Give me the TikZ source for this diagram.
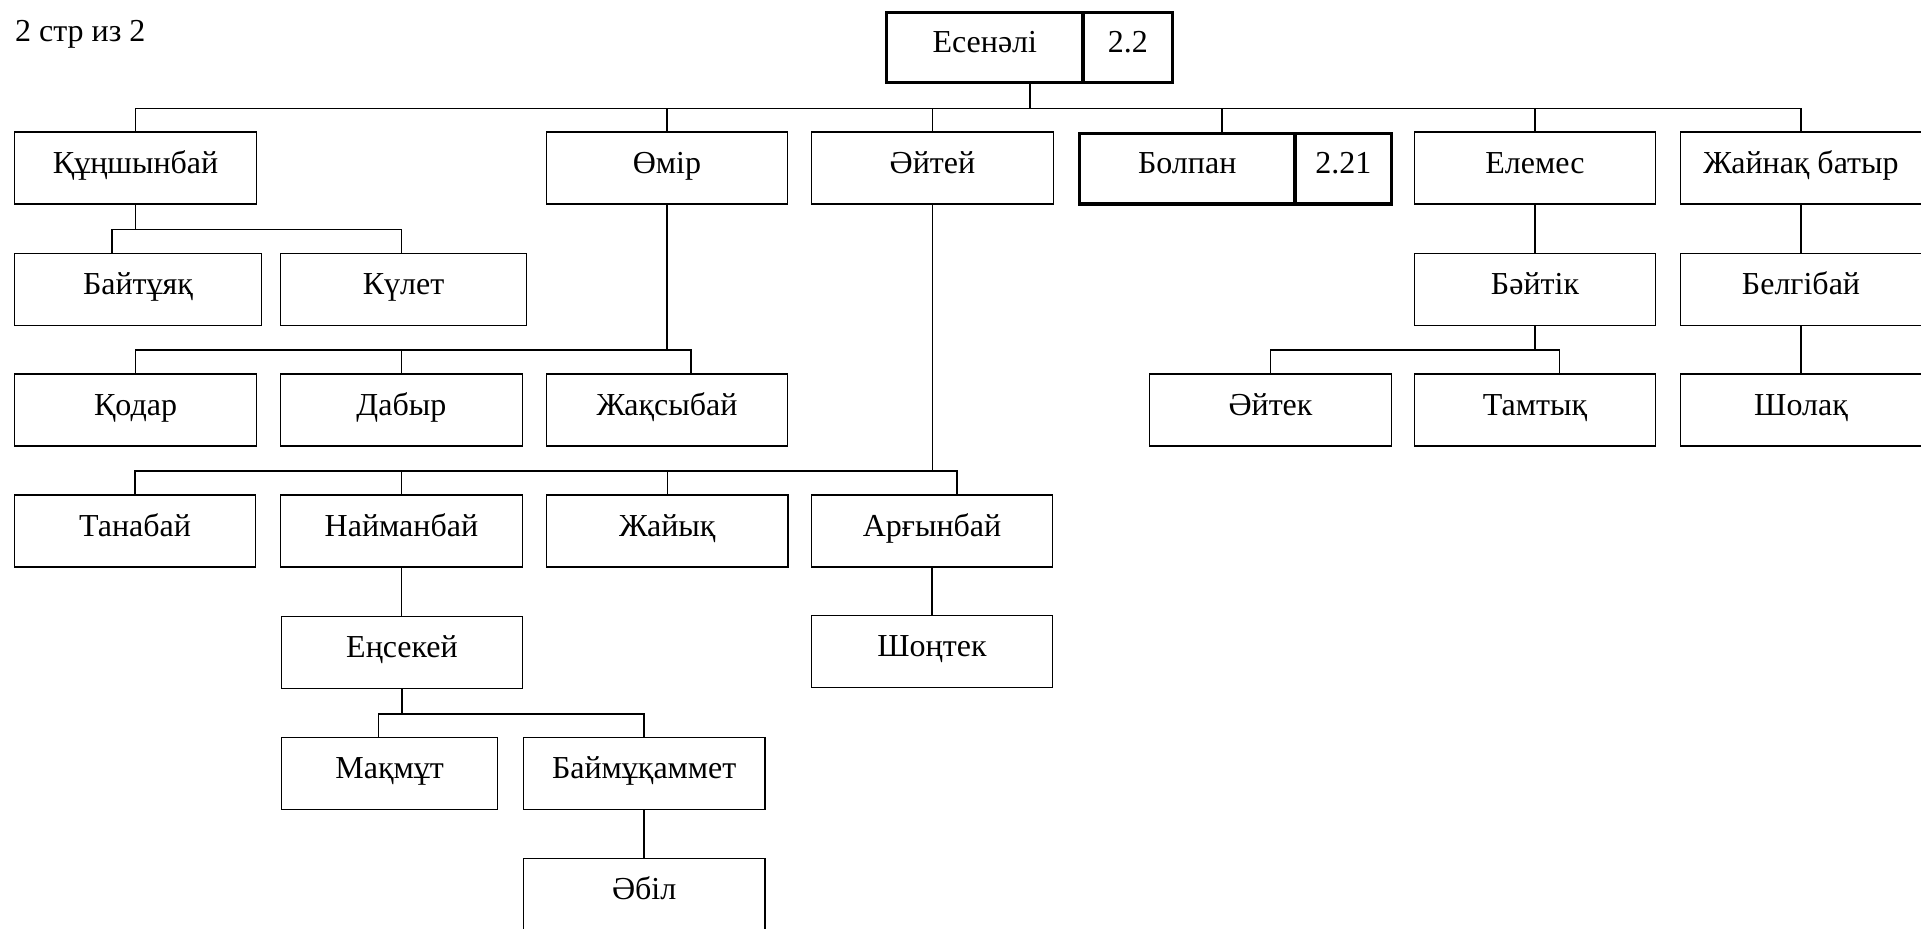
\documentclass[tikz,border=0pt]{standalone}
\usepackage{fontspec}
\setmainfont{Liberation Serif}
\usetikzlibrary{positioning,calc}

\tikzset{
  person/.style={draw, line width=0.6pt, inner sep=0pt, outer sep=0pt,
    minimum width=120.75pt, minimum height=36pt,
    text height=0.75em, text depth=0.25em, font=\fontsize{16}{19}\selectfont},
  mainperson/.style={person, line width=1.6pt},
  link/.style={line width=0.8pt},
}

\begin{document}
\begin{tikzpicture}[x=0.5pt, y=-0.5pt]
\useasboundingbox (0,0) rectangle (1921,928);

% Page label
\node[anchor=base west, inner sep=0pt, font=\fontsize{16}{19}\selectfont] (page) at (14.7,41.7) {2 стр из 2};

% Root
\node[mainperson, minimum width=98.2pt, minimum height=35pt] (esen) at (984.8,47.7) {Есенәлі};
\node[mainperson, minimum width=44.9pt, minimum height=35pt, right=0pt of esen] (esennum) {2.2};

% Sons
\node[person] (kun) at (135.6,168) {Құңшынбай};
\node[person] (omir) at (667,168) {Өмір};
\node[person] (ait) at (932.5,168) {Әйтей};
\node[mainperson, minimum width=107.8pt, minimum height=35.4pt] (bolpan) at (1187.2,168.6) {Болпан};
\node[mainperson, minimum width=48.3pt, minimum height=35.4pt, right=0pt of bolpan] (bolpannum) {2.21};
\node[person] (elem) at (1535,168) {Елемес};
\node[person] (zhay) at (1801,168) {Жайнақ батыр};

% Row 2
\node[person, minimum width=123.35pt] (baytu) at (138,289.2) {Байтұяқ};
\node[person, minimum width=123pt] (kulet) at (403.5,289.2) {Күлет};
\node[person] (baytik) at (1535,289.2) {Бәйтік};
\node[person] (belgi) at (1801,289.2) {Белгібай};

% Row 3
\node[person] (qodar) at (135.6,410) {Қодар};
\node[person] (dabyr) at (401.4,410) {Дабыр};
\node[person] (zhaqsy) at (667,410) {Жақсыбай};
\node[person] (aitek) at (1270.5,410) {Әйтек};
\node[person] (tamtyq) at (1535,410) {Тамтық};
\node[person] (sholaq) at (1801,410) {Шолақ};

% Row 4
\node[person, minimum width=120.3pt] (tanabay) at (135,531) {Танабай};
\node[person] (nayman) at (401.4,531) {Найманбай};
\node[person] (zhayyq) at (667.3,531) {Жайық};
\node[person] (argyn) at (932,531) {Арғынбай};

% Rows 5-7
\node[person] (ensek) at (402,652.7) {Еңсекей};
\node[person] (shongtek) at (932,651.3) {Шоңтек};
\node[person, minimum width=108.1pt] (maqmut) at (389.7,773.3) {Мақмұт};
\node[person] (baymuq) at (644.2,773.3) {Баймұқаммет};
\node[person] (abil) at (644.2,894.3) {Әбіл};

% Esenali's sons
\coordinate (esenmid) at ($(esen.south west)!0.5!(esennum.south east)$);
\draw[link] (esenmid) -- ++(0,25.6) coordinate (j0);
\draw[link] (kun.north) |- (j0) -| (zhay.north);
\foreach \n in {omir,ait,elem} \draw[link] (\n.north) -- ++(0,-23.7);
\draw[link] ($(bolpan.north)+(34.8,0)$) -- ++(0,-25);

% Kunshynbai
\draw[link] (kun.south) -- ++(0,25.3) coordinate (j1);
\draw[link] ($(baytu.north)+(-26,0)$) |- (j1) -| ($(kulet.north)+(-1.9,0)$);

% Omir
\draw[link] (omir.south) -- ++(0,146) coordinate (j2);
\draw[link] (qodar.north) |- (j2) -| ($(zhaqsy.north)+(24,0)$);
\draw[link] (dabyr.north) -- ++(0,-24);

% Elemes and Baitik
\draw[link] (elem.south) -- (baytik.north);
\draw[link] (baytik.south) -- ++(0,24.8) coordinate (j2b);
\draw[link] (aitek.north) |- (j2b) -| ($(tamtyq.north)+(24.5,0)$);

% Zhainaq batyr
\draw[link] (zhay.south) -- (belgi.north);
\draw[link] (belgi.south) -- (sholaq.north);

% Aitei
\draw[link] (ait.south) -- ++(0,266.7) coordinate (j3);
\draw[link] (tanabay.north) |- (j3) -| ($(argyn.north)+(25,0)$);
\foreach \n in {nayman,zhayyq} \draw[link] (\n.north) -- ++(0,-24.3);
\draw[link] (nayman.south) -- (nayman.south |- ensek.north);
\draw[link] (argyn.south) -- (argyn.south |- shongtek.north);

% Ensekei
\draw[link] (ensek.south) -- ++(0,25.3) coordinate (j5);
\draw[link] ($(maqmut.north)+(-11.3,0)$) |- (j5) -| (baymuq.north);
\draw[link] (baymuq.south) -- (abil.north);

\end{tikzpicture}
\end{document}
